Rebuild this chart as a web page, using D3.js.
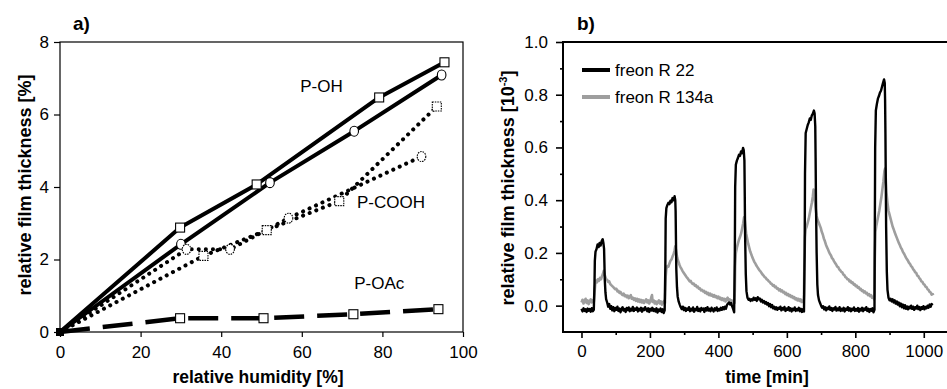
<!DOCTYPE html>
<html>
<head>
<meta charset="utf-8">
<script src="https://cdn.jsdelivr.net/npm/d3@7"></script>
<style>
html,body{margin:0;padding:0;background:#fff;}
svg{display:block;font-family:"Liberation Sans",Arial,Helvetica,sans-serif;}
</style>
</head>
<body>
<svg id="chart" width="947" height="389"></svg>
<script>
// ---------------- Panel a data ----------------
const humidityTicks = [0, 20, 40, 60, 80, 100];
const thicknessTicksA = [0, 2, 4, 6, 8];
const pohSquaresX = [0, 29.8, 48.8, 79.2, 95.4];
const pohSquaresY = [0, 2.88, 4.07, 6.47, 7.44];
const pohCirclesX = [0, 30.0, 52.1, 73.0, 94.7];
const pohCirclesY = [0, 2.42, 4.12, 5.54, 7.09];
const pcoohSquaresX = [0, 35.6, 51.3, 69.3, 93.5];
const pcoohSquaresY = [0, 2.10, 2.81, 3.61, 6.22];
const pcoohCirclesX = [0, 31.4, 42.2, 56.7, 89.7];
const pcoohCirclesY = [0, 2.28, 2.28, 3.14, 4.84];
const poacSquaresX = [0, 29.8, 50.5, 72.8, 93.9];
const poacSquaresY = [0, 0.38, 0.38, 0.49, 0.63];
const seriesLabels = ["P-OH", "P-COOH", "P-OAc"];
const seriesLabelX = [59.6, 73.7, 73.0];
const seriesLabelY = [6.63, 3.42, 1.19];

// ---------------- Panel b data ----------------
const timeTicks = [0, 200, 400, 600, 800, 1000];
const timeMinorTicks = [100, 300, 500, 700, 900];
const thicknessTicksB = [0.0, 0.2, 0.4, 0.6, 0.8, 1.0];
const thicknessMinorB = [0.1, 0.3, 0.5, 0.7, 0.9];
const legendNames = ["freon R 22", "freon R 134a"];

const freonR22 = [
[0,-0.012],[3,-0.022],[6,-0.010],[9,-0.020],[12,-0.014],[15,-0.024],[18,-0.011],[21,-0.019],[24,-0.013],[27,-0.023],[30,-0.010],[33,-0.021],[36,-0.016],
[38,0.08],[39,0.17],[41,0.205],[44,0.215],[47,0.232],[50,0.222],[53,0.238],[56,0.228],[59,0.245],[62,0.252],[64,0.238],[66,0.215],[67,0.16],[68,0.10],[70,0.05],[72,0.025],[75,0.012],[78,-0.004],[81,0.006],[84,-0.012],[87,-0.002],[90,-0.018],[93,-0.006],[96,-0.021],[99,-0.009],[102,-0.016],[105,-0.004],[108,-0.02],[111,-0.011],[114,-0.025],[117,-0.012],[120,-0.006],[123,-0.019],[126,-0.013],[129,-0.024],[132,-0.009],[135,-0.017],[138,-0.007],[141,-0.021],[144,-0.012],[147,-0.018],[150,-0.005],[153,-0.02],[156,-0.011],[159,-0.016],[162,-0.007],[165,-0.022],[168,-0.012],[171,-0.018],[174,-0.008],[177,-0.023],[180,-0.011],[183,-0.017],[186,-0.006],[189,-0.015],[192,-0.021],[195,-0.01],[198,-0.024],[201,-0.012],[204,-0.018],[207,-0.008],[210,-0.02],[213,-0.014],[216,-0.022],[219,-0.01],[222,-0.026],[225,-0.015],[228,-0.02],[231,-0.011],[234,-0.024],[237,-0.014],[240,-0.028],[243,-0.018],
[245,0.15],[246,0.33],[248,0.37],[251,0.382],[254,0.39],[257,0.385],[260,0.398],[263,0.392],[266,0.408],[269,0.40],[272,0.415],[274,0.40],[275,0.36],[276,0.25],[277,0.14],[279,0.07],[281,0.035],[284,0.015],[287,0.004],[290,-0.006],[293,-0.013],[296,-0.004],[299,-0.017],[302,-0.008],[305,-0.02],[308,-0.011],[311,-0.016],[314,-0.006],[317,-0.021],[320,-0.012],[323,-0.018],[326,-0.007],[329,-0.023],[332,-0.013],[335,-0.017],[338,-0.005],[341,-0.02],[344,-0.012],[347,-0.022],[350,-0.009],[353,-0.016],[356,-0.011],[359,-0.024],[362,-0.01],[365,-0.018],[368,-0.006],[371,-0.019],[374,-0.012],[377,-0.021],[380,-0.008],[383,-0.015],[386,-0.022],[389,-0.01],[392,-0.017],[395,-0.007],[398,-0.02],[401,-0.013],[404,-0.018],[407,-0.008],[410,-0.016],[413,-0.006],[416,-0.014],[419,-0.004],[422,-0.012],[425,0.002],[428,0.008],[431,0.012],[434,0.004],[437,0.01],[440,-0.002],[443,-0.012],[446,-0.025],
[448,0.2],[449,0.45],[451,0.535],[454,0.55],[457,0.56],[460,0.572],[463,0.568],[466,0.585],[469,0.578],[472,0.598],[474,0.59],[476,0.55],[477,0.42],[478,0.27],[480,0.12],[482,0.055],[485,0.03],[488,0.022],[491,0.026],[494,0.018],[497,0.024],[500,0.02],[503,0.03],[506,0.022],[509,0.028],[512,0.018],[515,0.032],[518,0.024],[521,0.027],[524,0.016],[527,0.022],[530,0.012],[533,0.018],[536,0.008],[539,0.014],[542,0.004],[545,0.01],[548,-0.002],[551,0.006],[554,-0.006],[557,0.002],[560,-0.01],[563,-0.004],[566,-0.014],[569,-0.006],[572,-0.016],[575,-0.008],[578,-0.012],[581,-0.004],[584,-0.018],[587,-0.009],[590,-0.015],[593,-0.005],[596,-0.02],[599,-0.011],[602,-0.016],[605,-0.006],[608,-0.019],[611,-0.01],[614,-0.022],[617,-0.012],[620,-0.017],[623,-0.007],[626,-0.02],[629,-0.013],[632,-0.018],[635,-0.008],[638,-0.021],[641,-0.012],[644,-0.024],[647,-0.014],[650,-0.022],
[652,0.2],[653,0.5],[655,0.655],[658,0.67],[661,0.685],[664,0.695],[667,0.71],[670,0.705],[673,0.722],[676,0.728],[679,0.74],[681,0.73],[683,0.68],[684,0.56],[685,0.4],[687,0.2],[689,0.08],[691,0.04],[694,0.02],[697,0.01],[700,0.0],[703,-0.008],[706,-0.002],[709,-0.014],[712,-0.006],[715,-0.018],[718,-0.008],[721,-0.013],[724,-0.003],[727,-0.016],[730,-0.009],[733,-0.02],[736,-0.01],[739,-0.015],[742,-0.005],[745,-0.019],[748,-0.011],[751,-0.017],[754,-0.006],[757,-0.02],[760,-0.012],[763,-0.018],[766,-0.008],[769,-0.022],[772,-0.012],[775,-0.016],[778,-0.006],[781,-0.019],[784,-0.01],[787,-0.021],[790,-0.012],[793,-0.017],[796,-0.007],[799,-0.02],[802,-0.013],[805,-0.019],[808,-0.009],[811,-0.023],[814,-0.012],[817,-0.018],[820,-0.008],[823,-0.021],[826,-0.011],[829,-0.016],[832,-0.006],[835,-0.02],[838,-0.012],[841,-0.024],[844,-0.013],[847,-0.019],[850,-0.01],[853,-0.025],[856,-0.016],
[857,0.3],[858,0.6],[860,0.74],[863,0.765],[866,0.785],[869,0.795],[872,0.808],[875,0.815],[878,0.83],[881,0.845],[884,0.858],[886,0.845],[887,0.78],[888,0.65],[889,0.48],[890,0.3],[892,0.13],[894,0.06],[897,0.03],[900,0.02],[903,0.026],[906,0.016],[909,0.024],[912,0.012],[915,0.02],[918,0.008],[921,0.016],[924,0.004],[927,0.012],[930,-0.002],[933,0.008],[936,-0.006],[939,0.004],[942,-0.01],[945,0.002],[948,-0.012],[951,-0.003],[954,-0.014],[957,-0.004],[960,-0.01],[963,0.0],[966,-0.012],[969,-0.004],[972,-0.016],[975,-0.006],[978,-0.011],[981,0.0],[984,-0.013],[987,-0.005],[990,-0.017],[993,-0.006],[996,-0.012],[999,-0.002],[1002,-0.014],[1005,-0.005],[1008,-0.01],[1011,0.0],[1014,-0.008],[1017,0.004],[1020,-0.004],[1023,0.006],[1026,0.002]
];

const freonR134a = [
[0,0.012],[3,0.022],[6,0.008],[9,0.018],[12,0.026],[15,0.01],[18,0.02],[21,0.006],[24,0.016],[27,0.024],[30,0.012],[33,0.02],[36,0.014],
[38,0.045],[40,0.08],[42,0.095],[45,0.088],[48,0.1],[51,0.094],[54,0.105],[57,0.1],[60,0.112],[63,0.122],[65,0.132],[67,0.12],[69,0.112],[72,0.1],[75,0.098],[78,0.09],[81,0.092],[84,0.082],[87,0.078],[90,0.074],[93,0.07],[96,0.066],[99,0.062],[102,0.064],[105,0.054],[108,0.056],[111,0.048],[114,0.052],[117,0.044],[120,0.04],[123,0.046],[126,0.036],[129,0.04],[132,0.032],[135,0.038],[138,0.028],[141,0.034],[144,0.04],[147,0.026],[150,0.03],[153,0.022],[156,0.028],[159,0.018],[162,0.026],[165,0.016],[168,0.024],[171,0.014],[174,0.022],[177,0.012],[180,0.02],[183,0.01],[186,0.018],[189,0.024],[192,0.012],[195,0.02],[198,0.008],[201,0.016],[204,0.032],[206,0.04],[208,0.014],[211,0.02],[214,0.008],[217,0.016],[220,0.006],[223,0.014],[226,0.02],[229,0.008],[232,0.016],[235,0.004],[238,0.012],[241,0.018],[244,0.01],
[245,0.06],[246,0.11],[248,0.14],[251,0.15],[254,0.148],[257,0.16],[260,0.17],[263,0.175],[266,0.186],[269,0.195],[272,0.21],[274,0.225],[276,0.212],[278,0.195],[280,0.18],[283,0.168],[286,0.156],[289,0.146],[292,0.14],[295,0.132],[298,0.126],[301,0.12],[304,0.114],[307,0.108],[310,0.104],[313,0.098],[316,0.092],[319,0.094],[322,0.086],[325,0.082],[328,0.084],[331,0.076],[334,0.078],[337,0.07],[340,0.072],[343,0.064],[346,0.066],[349,0.058],[352,0.06],[355,0.054],[358,0.056],[361,0.048],[364,0.052],[367,0.044],[370,0.048],[373,0.04],[376,0.046],[379,0.038],[382,0.042],[385,0.034],[388,0.04],[391,0.032],[394,0.036],[397,0.028],[400,0.034],[403,0.026],[406,0.03],[409,0.022],[412,0.028],[415,0.02],[418,0.026],[421,0.016],[424,0.024],[427,0.03],[430,0.018],[433,0.024],[436,0.014],[439,0.02],[442,0.01],[445,0.016],[447,0.01],
[448,0.06],[449,0.15],[451,0.2],[454,0.22],[457,0.235],[460,0.25],[463,0.26],[466,0.272],[469,0.29],[472,0.31],[475,0.335],[477,0.325],[479,0.3],[481,0.275],[484,0.255],[487,0.235],[490,0.22],[493,0.205],[496,0.195],[499,0.184],[502,0.175],[505,0.166],[508,0.16],[511,0.152],[514,0.146],[517,0.14],[520,0.134],[523,0.13],[526,0.124],[529,0.118],[532,0.114],[535,0.108],[538,0.106],[541,0.1],[544,0.098],[547,0.092],[550,0.09],[553,0.084],[556,0.082],[559,0.076],[562,0.078],[565,0.07],[568,0.072],[571,0.064],[574,0.066],[577,0.058],[580,0.062],[583,0.054],[586,0.058],[589,0.05],[592,0.052],[595,0.044],[598,0.048],[601,0.04],[604,0.044],[607,0.036],[610,0.04],[613,0.032],[616,0.036],[619,0.028],[622,0.032],[625,0.024],[628,0.028],[631,0.02],[634,0.026],[637,0.018],[640,0.024],[643,0.014],[646,0.02],[649,0.012],
[650,0.04],[651,0.15],[653,0.26],[655,0.29],[658,0.30],[661,0.315],[664,0.33],[667,0.35],[670,0.37],[673,0.39],[676,0.415],[678,0.44],[680,0.43],[682,0.40],[684,0.37],[687,0.34],[690,0.325],[693,0.315],[696,0.305],[699,0.295],[702,0.28],[705,0.27],[708,0.255],[711,0.245],[714,0.232],[717,0.222],[720,0.214],[723,0.204],[726,0.196],[729,0.19],[732,0.18],[735,0.176],[738,0.168],[741,0.162],[744,0.156],[747,0.148],[750,0.146],[753,0.138],[756,0.134],[759,0.128],[762,0.126],[765,0.118],[768,0.116],[771,0.108],[774,0.106],[777,0.1],[780,0.1],[783,0.092],[786,0.094],[789,0.086],[792,0.088],[795,0.08],[798,0.082],[801,0.074],[804,0.076],[807,0.068],[810,0.07],[813,0.062],[816,0.064],[819,0.056],[822,0.058],[825,0.05],[828,0.054],[831,0.046],[834,0.048],[837,0.04],[840,0.044],[843,0.036],[846,0.04],[849,0.03],[852,0.034],[855,0.024],
[856,0.05],[857,0.18],[859,0.28],[861,0.3],[864,0.32],[867,0.34],[870,0.36],[873,0.385],[876,0.41],[879,0.44],[882,0.47],[885,0.51],[887,0.52],[889,0.48],[891,0.43],[894,0.39],[897,0.36],[900,0.345],[903,0.33],[906,0.315],[909,0.3],[912,0.29],[915,0.278],[918,0.268],[921,0.258],[924,0.248],[927,0.238],[930,0.23],[933,0.22],[936,0.214],[939,0.204],[942,0.198],[945,0.19],[948,0.182],[951,0.176],[954,0.17],[957,0.162],[960,0.158],[963,0.15],[966,0.146],[969,0.138],[972,0.134],[975,0.126],[978,0.124],[981,0.114],[984,0.112],[987,0.104],[990,0.1],[993,0.092],[996,0.09],[999,0.082],[1002,0.08],[1005,0.072],[1008,0.07],[1011,0.062],[1014,0.06],[1017,0.052],[1020,0.05],[1023,0.042],[1026,0.044],[1028,0.04]
];

// ---------------- Drawing ----------------
const svg = d3.select("#chart");
const FONT = 17;

// ===== Panel a =====
const xA = d3.scaleLinear().domain([0, 100]).range([60, 463]);
const yA = d3.scaleLinear().domain([0, 8]).range([332, 42]);
const gA = svg.append("g");

gA.append("rect").attr("x", xA(0)).attr("y", yA(8))
  .attr("width", xA(100) - xA(0)).attr("height", yA(0) - yA(8))
  .attr("fill", "none").attr("stroke", "#000").attr("stroke-width", 1.2);

const axA_x = gA.append("g").attr("transform", `translate(0,${yA(0)})`)
  .call(d3.axisBottom(xA).tickValues(humidityTicks).tickSize(5).tickPadding(9).tickFormat(d3.format("d")));
const axA_y = gA.append("g").attr("transform", `translate(${xA(0)},0)`)
  .call(d3.axisLeft(yA).tickValues(thicknessTicksA).tickSize(6).tickPadding(5).tickFormat(d3.format("d")));
[axA_x, axA_y].forEach(ax => {
  ax.select(".domain").remove();
  ax.selectAll("line").attr("stroke", "#000").attr("stroke-width", 1.2);
  ax.selectAll("text").attr("font-size", FONT).attr("fill", "#000")
    .attr("font-family", '"Liberation Sans",Arial,sans-serif');
});

const lineA = d3.line().x(d => xA(d[0])).y(d => yA(d[1]));
const zipA = (xs, ys) => xs.map((x, i) => [x, ys[i]]);

const seriesA = [
  {pts: zipA(pohSquaresX, pohSquaresY), dash: null, w: 4, cap: "butt", marker: "square", markerDash: null},
  {pts: zipA(pohCirclesX, pohCirclesY), dash: null, w: 4, cap: "butt", marker: "circle", markerDash: null},
  {pts: zipA(pcoohSquaresX, pcoohSquaresY), dash: "0.1,7", w: 4, cap: "round", marker: "square", markerDash: "1.5,1"},
  {pts: zipA(pcoohCirclesX, pcoohCirclesY), dash: "0.1,7", w: 4, cap: "round", marker: "circle", markerDash: "1.5,1"},
  {pts: zipA(poacSquaresX, poacSquaresY), dash: "30,13", w: 4.5, cap: "butt", marker: "square", markerDash: null}
];

seriesA.forEach(s => {
  gA.append("path").datum(s.pts).attr("d", lineA)
    .attr("fill", "none").attr("stroke", "#000").attr("stroke-width", s.w)
    .attr("stroke-linecap", s.cap).attr("stroke-linejoin", "round")
    .attr("stroke-dasharray", s.dash);
});
seriesA.forEach(s => {
  const pts = s.pts.slice(1);
  if (s.marker === "square") {
    gA.selectAll(null).data(pts).enter().append("rect")
      .attr("x", d => xA(d[0]) - 4.5).attr("y", d => yA(d[1]) - 4.5)
      .attr("width", 9).attr("height", 9)
      .attr("fill", "#fff").attr("stroke", "#000").attr("stroke-width", 1.1)
      .attr("stroke-dasharray", s.markerDash);
  } else {
    gA.selectAll(null).data(pts).enter().append("ellipse")
      .attr("cx", d => xA(d[0])).attr("cy", d => yA(d[1]))
      .attr("rx", 4.3).attr("ry", 5)
      .attr("fill", "#fff").attr("stroke", "#000").attr("stroke-width", 1.1)
      .attr("stroke-dasharray", s.markerDash);
  }
});
// origin marker
gA.append("rect").attr("x", xA(0) - 4).attr("y", yA(0) - 4).attr("width", 8).attr("height", 8).attr("fill", "#000");

seriesLabels.forEach((t, i) => {
  gA.append("text").attr("x", xA(seriesLabelX[i])).attr("y", yA(seriesLabelY[i]))
    .attr("font-size", FONT).attr("fill", "#000").text(t);
});

gA.append("text").attr("x", 73).attr("y", 30).attr("font-size", 19).attr("font-weight", "bold").text("a)");
gA.append("text").attr("x", 258).attr("y", 383).attr("text-anchor", "middle")
  .attr("font-size", 17.5).attr("font-weight", "bold").text("relative humidity [%]");
gA.append("text").attr("transform", "translate(31,185) rotate(-90)").attr("text-anchor", "middle")
  .attr("font-size", 18).attr("font-weight", "bold").text("relative film thickness [%]");

// ===== Panel b =====
const xB = d3.scaleLinear().domain([-54, 1100]).range([563, 958]);
const yB = d3.scaleLinear().domain([-0.1, 1.0]).range([332, 42]);
const gB = svg.append("g");

const axB_x = gB.append("g").attr("transform", `translate(0,${yB(-0.1)})`)
  .call(d3.axisBottom(xB).tickValues(timeTicks).tickSize(6).tickPadding(7).tickFormat(d3.format("d")));
const axB_xm = gB.append("g").attr("transform", `translate(0,${yB(-0.1)})`)
  .call(d3.axisBottom(xB).tickValues(timeMinorTicks).tickSize(3).tickFormat(""));
const axB_y = gB.append("g").attr("transform", `translate(${xB(-54)},0)`)
  .call(d3.axisLeft(yB).tickValues(thicknessTicksB).tickSize(7).tickPadding(8).tickFormat(d3.format(".1f")));
const axB_ym = gB.append("g").attr("transform", `translate(${xB(-54)},0)`)
  .call(d3.axisLeft(yB).tickValues(thicknessMinorB).tickSize(3).tickFormat(""));
[axB_x, axB_xm, axB_y, axB_ym].forEach(ax => {
  ax.select(".domain").remove();
  ax.selectAll("line").attr("stroke", "#000").attr("stroke-width", 1.6);
  ax.selectAll("text").attr("font-size", FONT).attr("fill", "#000")
    .attr("font-family", '"Liberation Sans",Arial,sans-serif');
});
// frame
gB.append("rect").attr("x", xB(-54)).attr("y", yB(1.0))
  .attr("width", xB(1100) - xB(-54)).attr("height", yB(-0.1) - yB(1.0))
  .attr("fill", "none").attr("stroke", "#000").attr("stroke-width", 2);

const lineB = d3.line().x(d => xB(d[0])).y(d => yB(d[1]));
gB.append("path").datum(freonR134a).attr("d", lineB)
  .attr("fill", "none").attr("stroke", "#9e9e9e").attr("stroke-width", 2.6).attr("stroke-linejoin", "round");
gB.append("path").datum(freonR22).attr("d", lineB)
  .attr("fill", "none").attr("stroke", "#000").attr("stroke-width", 2.4).attr("stroke-linejoin", "round");

// legend
const legColors = ["#000", "#9e9e9e"];
legendNames.forEach((name, i) => {
  const y = 70 + i * 27;
  gB.append("line").attr("x1", 582).attr("x2", 610).attr("y1", y).attr("y2", y)
    .attr("stroke", legColors[i]).attr("stroke-width", 4);
  gB.append("text").attr("x", 615).attr("y", y + 6).attr("font-size", FONT).attr("fill", "#000").text(name);
});

gB.append("text").attr("x", 577).attr("y", 30).attr("font-size", 19).attr("font-weight", "bold").text("b)");
gB.append("text").attr("x", 767).attr("y", 383).attr("text-anchor", "middle")
  .attr("font-size", 17.5).attr("font-weight", "bold").text("time [min]");
const yt = gB.append("text").attr("transform", "translate(514,188) rotate(-90)").attr("text-anchor", "middle")
  .attr("font-size", 18).attr("font-weight", "bold");
yt.append("tspan").text("relative film thickness [10");
yt.append("tspan").attr("font-size", 11).attr("dy", -7).text("-3");
yt.append("tspan").attr("dy", 7).text("]");
</script>
</body>
</html>
